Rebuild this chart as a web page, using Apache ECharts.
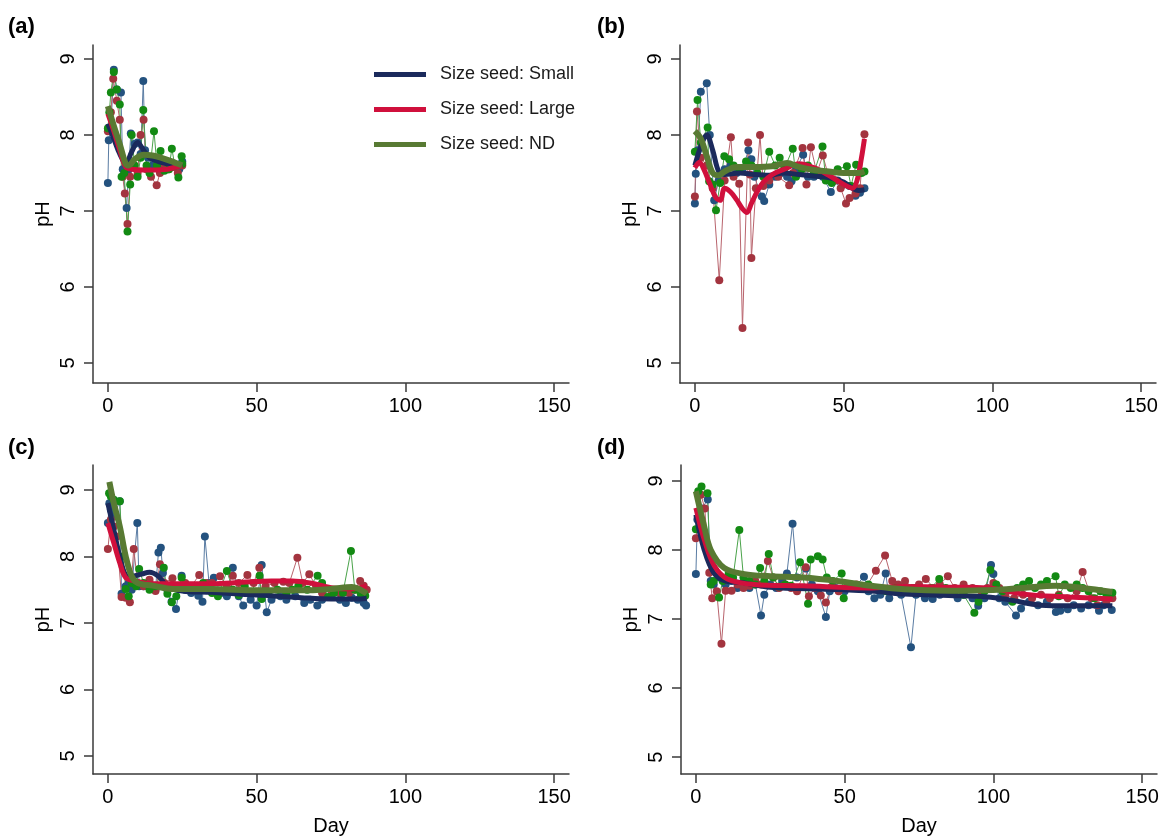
<!DOCTYPE html>
<html>
<head>
<meta charset="utf-8">
<script src="https://cdn.jsdelivr.net/npm/echarts@6/dist/echarts.min.js"></script>
<style>
html,body{margin:0;padding:0;background:#fff;}
#chart{width:1167px;height:837px;}
</style>
</head>
<body>
<div id="chart"></div>
<script>
// ---- tick labels ----
const dayTicks = [0, 50, 100, 150];
const phTicks = [5, 6, 7, 8, 9];
const seriesNames = ['Size seed: Small', 'Size seed: Large', 'Size seed: ND'];
const panelLabels = ['(a)', '(b)', '(c)', '(d)'];

// ---- panel (a): raw [day, pH] ----
const aSmall = [[0,7.37],[0.3,7.93],[1,8.1],[2,8.86],[3,8.6],[4.4,8.56],[5,7.55],[6.3,7.04],[7,7.55],[7.7,8.02],[9,7.88],[10,7.9],[11,7.75],[11.9,8.71],[12.5,7.8],[13.5,7.7],[15,7.6],[16,7.65],[17,7.62],[18,7.58],[19,7.6],[20,7.55],[21,7.62],[22,7.58],[23,7.6],[24,7.55],[25,7.65]];
const aLarge = [[0,8.05],[1,8.3],[1.8,8.74],[3,8.45],[4,8.2],[5,7.45],[5.7,7.23],[6.6,6.83],[7.5,7.45],[8.5,7.6],[10,7.5],[11,8.0],[12,8.2],[13,7.55],[14.5,7.45],[16.4,7.34],[17.5,7.5],[19,7.6],[20.5,7.55],[22,7.58],[23.5,7.5],[25,7.6]];
const aND = [[0,8.09],[0.5,8.3],[1,8.56],[2,8.83],[3,8.6],[4,8.4],[4.6,7.45],[5.5,7.5],[6.6,6.73],[7.5,7.35],[8,8.0],[9,7.6],[10,7.45],[11,7.7],[11.9,8.33],[13,7.6],[14,7.5],[15.5,8.05],[16.5,7.6],[17.7,7.79],[19,7.53],[20.5,7.55],[21.5,7.82],[22.5,7.6],[23.7,7.44],[24.8,7.72],[25,7.62]];
// ---- panel (a): smoothed ----
const aSmallFit = [[0,8.15],[2,7.95],[4,7.75],[6,7.62],[8,7.78],[10,7.9],[12,7.8],[14,7.7],[17,7.65],[20,7.62],[23,7.6],[25,7.6]];
const aLargeFit = [[0,8.28],[2,8.05],[4,7.8],[6,7.58],[8,7.55],[12,7.54],[16,7.54],[20,7.55],[22,7.57],[25,7.6]];
const aNDFit = [[0,8.38],[2,8.12],[4,7.88],[6,7.62],[7,7.6],[9,7.68],[12,7.74],[15,7.73],[18,7.7],[21,7.66],[25,7.6]];

// ---- panel (b): raw ----
const bSmall = [[0,7.1],[0.3,7.49],[1,7.8],[2,8.57],[4,8.68],[5,8.0],[6.5,7.14],[8,7.4],[10,7.55],[12,7.6],[14,7.5],[16,7.55],[18,7.8],[19,7.68],[20,7.45],[22.5,7.19],[23.3,7.13],[25,7.35],[27,7.45],[29,7.5],[31,7.45],[32.5,7.39],[34,7.55],[36.4,7.74],[38,7.45],[40,7.45],[41.3,7.51],[43,7.45],[45.7,7.25],[48,7.4],[50,7.35],[52,7.33],[54,7.2],[55.5,7.24],[57,7.3]];
const bLarge = [[0,7.19],[0.7,8.31],[2,7.7],[4,7.6],[6,7.3],[8.2,6.09],[10,7.4],[12.1,7.97],[13,7.45],[14.9,7.36],[16,5.46],[17.9,7.9],[18.5,7.48],[19,6.38],[20.5,7.3],[21.9,8.0],[23,7.33],[25,7.4],[28,7.45],[31.7,7.34],[33,7.5],[36.2,7.83],[37.5,7.35],[39,7.84],[41,7.5],[43,7.73],[45,7.45],[47,7.4],[49,7.3],[50.8,7.1],[52,7.17],[54,7.23],[55.5,7.3],[57,8.01]];
const bND = [[0,7.78],[0.9,8.46],[2,7.9],[4.3,8.1],[4.8,7.39],[6,7.35],[7.1,7.01],[8.5,7.37],[9.9,7.72],[11.5,7.68],[13,7.6],[15,7.55],[17.2,7.65],[19,7.6],[21,7.5],[23,7.45],[25,7.78],[27,7.6],[28.5,7.7],[30,7.55],[32.9,7.82],[34,7.45],[36,7.55],[38,7.6],[40,7.5],[42.9,7.85],[44,7.4],[46,7.37],[48,7.55],[51.1,7.59],[52.5,7.33],[54.2,7.61],[56,7.5],[57,7.52]];
// ---- panel (b): smoothed ----
const bSmallFit = [[0,7.6],[2,7.85],[4,8.0],[6,7.8],[8,7.52],[10,7.48],[15,7.5],[20,7.48],[25,7.47],[30,7.5],[35,7.48],[40,7.46],[45,7.44],[50,7.38],[53,7.3],[55,7.27],[57,7.28]];
const bLargeFit = [[0,7.57],[1.5,7.64],[3,7.55],[5,7.36],[7,7.18],[8.5,7.14],[10,7.3],[12,7.25],[14,7.15],[16,7.03],[17.5,6.98],[19,7.1],[21,7.26],[23,7.38],[26,7.48],[30,7.55],[35,7.62],[40,7.57],[45,7.47],[50,7.35],[53,7.3],[54.5,7.4],[56,7.7],[57,7.95]];
const bNDFit = [[0,8.05],[2,7.95],[4,7.72],[6,7.5],[8,7.47],[10,7.52],[14,7.58],[20,7.58],[26,7.59],[31,7.63],[35,7.58],[40,7.54],[45,7.52],[50,7.5],[55,7.5],[57,7.52]];

// ---- panel (c): raw ----
const cSmall = [[0,8.5],[0.5,8.8],[1,8.7],[2,8.6],[4,8.83],[4.6,7.44],[6,7.55],[7,7.6],[8,7.5],[9.9,8.5],[10.5,7.55],[12,7.55],[14,7.6],[16,7.5],[17,8.06],[17.8,8.13],[18.5,7.75],[20,7.5],[21.4,7.32],[22.9,7.21],[24.8,7.71],[26,7.5],[28,7.45],[30.4,7.41],[31.8,7.32],[32.6,8.3],[34,7.6],[35.6,7.68],[38,7.45],[40,7.4],[42,7.83],[44,7.4],[45.5,7.26],[48,7.35],[50,7.26],[51.7,7.87],[53.4,7.16],[55,7.35],[58,7.4],[60,7.35],[63,7.4],[66,7.3],[68,7.35],[70.4,7.26],[72,7.35],[75,7.4],[78,7.35],[80,7.3],[82,7.38],[84,7.35],[86,7.3],[86.8,7.26]];
const cLarge = [[0,8.11],[1,8.55],[2,8.45],[3,8.3],[4.6,7.39],[6,7.38],[7.4,7.31],[8.7,8.11],[10,7.6],[12,7.55],[14,7.65],[16,7.48],[17.5,7.88],[19,7.6],[21.7,7.67],[24,7.55],[26,7.6],[28,7.55],[30.7,7.72],[33,7.6],[35,7.6],[37.7,7.7],[40,7.55],[42,7.71],[44,7.6],[46.9,7.72],[49,7.6],[50.9,7.83],[53,7.55],[56,7.6],[59,7.62],[61,7.6],[63.7,7.98],[65.5,7.6],[67.7,7.73],[70,7.55],[72,7.45],[75,7.5],[78,7.45],[81,7.45],[83,7.5],[84.8,7.63],[86,7.56],[87,7.5]];
const cND = [[0.4,8.95],[1,8.9],[2,8.85],[4,8.83],[5,8.0],[6,7.51],[7,7.4],[8,7.6],[9.5,7.55],[10.5,7.81],[12,7.6],[14,7.5],[16,7.55],[18.8,7.83],[20,7.44],[21.5,7.31],[23,7.4],[24.8,7.68],[27,7.5],[30,7.55],[32,7.6],[35,7.45],[37,7.4],[40,7.78],[42,7.5],[44,7.42],[46,7.55],[48,7.45],[51,7.71],[51.7,7.36],[54,7.45],[57,7.5],[60,7.45],[62,7.5],[64,7.55],[67,7.5],[70.5,7.71],[72,7.6],[74,7.39],[76,7.45],[79,7.45],[81.7,8.08],[83,7.5],[85,7.44],[86.5,7.41]];
// ---- panel (c): smoothed ----
const cSmallFit = [[0,8.8],[2,8.4],[4,8.0],[6,7.72],[8,7.7],[11,7.73],[14,7.76],[17,7.7],[20,7.55],[25,7.48],[35,7.46],[45,7.43],[55,7.41],[65,7.38],[75,7.36],[85,7.36],[87,7.37]];
const cLargeFit = [[0,8.5],[2,8.2],[4,7.9],[6,7.68],[9,7.63],[15,7.59],[25,7.59],[35,7.59],[45,7.61],[55,7.63],[62,7.63],[68,7.6],[75,7.53],[82,7.51],[87,7.56]];
const cNDFit = [[0.5,9.12],[2,8.8],[4,8.45],[6,8.0],[8,7.7],[10,7.6],[15,7.56],[22,7.51],[35,7.51],[50,7.49],[65,7.49],[75,7.51],[82,7.54],[87,7.44]];

// ---- panel (d): raw ----
const dSmall = [[0,7.65],[0.5,8.44],[2,8.6],[4,8.73],[5,7.55],[6,7.5],[8,7.6],[10,7.5],[12,7.55],[14,7.45],[16,7.5],[18,7.45],[20,7.5],[21.9,7.05],[23,7.35],[25,7.5],[27,7.45],[29,7.55],[30.6,7.66],[32.5,8.38],[34,7.6],[37,7.73],[39,7.5],[41,7.4],[43.7,7.03],[45,7.4],[47,7.45],[50,7.4],[53,7.45],[56.5,7.61],[58,7.4],[60,7.3],[62,7.35],[63.8,7.66],[65,7.3],[67,7.4],[69,7.35],[72.3,6.59],[74,7.35],[77,7.3],[79.6,7.29],[82,7.35],[85,7.4],[88,7.3],[90,7.35],[93,7.3],[94.9,7.19],[97,7.3],[99.2,7.78],[100,7.65],[102,7.3],[104,7.25],[107.6,7.05],[109.3,7.15],[112,7.25],[115,7.2],[118,7.25],[121,7.1],[122.5,7.12],[125,7.14],[127,7.2],[129.5,7.15],[132,7.2],[135.5,7.12],[137,7.2],[139.8,7.13]];
const dLarge = [[0,8.17],[1,8.45],[1.7,8.8],[3,8.6],[4.5,7.67],[5.5,7.3],[7,7.4],[8.6,6.64],[10,7.41],[12,7.41],[14,7.5],[16,7.45],[18,7.48],[20,7.55],[22,7.5],[24.2,7.84],[26,7.6],[28,7.45],[30,7.5],[32,7.45],[34,7.4],[36.9,7.75],[38,7.33],[40,7.45],[42,7.34],[43.7,7.24],[45.5,7.46],[48,7.4],[51,7.45],[54,7.5],[57,7.45],[60.5,7.7],[63.6,7.92],[66,7.55],[68,7.5],[70.3,7.55],[73,7.45],[75,7.5],[77.3,7.58],[80,7.45],[82,7.5],[84.7,7.62],[87,7.45],[90,7.5],[93,7.45],[96,7.4],[98,7.45],[100,7.52],[102,7.45],[104,7.35],[107,7.3],[110,7.35],[113,7.3],[116,7.35],[119,7.3],[122,7.35],[125,7.3],[128,7.4],[130,7.68],[133,7.3],[135,7.2],[138,7.25],[140,7.3]];
const dND = [[0,8.3],[0.8,8.85],[1.9,8.92],[3.9,8.82],[5,7.5],[6,7.55],[7.8,7.31],[9,7.55],[11,7.65],[12.5,7.6],[14.6,8.29],[16,7.6],[18,7.55],[20,7.5],[21.6,7.74],[23,7.55],[24.5,7.94],[26,7.6],[28,7.47],[30,7.5],[32,7.48],[35,7.82],[37.7,7.22],[38.6,7.86],[41,7.91],[42.6,7.86],[44,7.6],[46,7.55],[49,7.66],[49.7,7.3],[52,7.5],[55,7.45],[58,7.5],[61,7.45],[64,7.4],[67,7.45],[70,7.4],[73,7.45],[76,7.4],[79,7.45],[81.8,7.58],[84,7.45],[87,7.4],[90,7.35],[93.6,7.09],[95,7.25],[97,7.4],[99,7.71],[101,7.5],[103,7.4],[106.4,7.25],[108,7.45],[110,7.5],[112,7.55],[114,7.45],[116,7.5],[118,7.55],[120.9,7.62],[122,7.33],[124,7.5],[126,7.45],[128,7.5],[130,7.45],[132,7.4],[134,7.3],[136,7.4],[138,7.35],[140,7.38]];
// ---- panel (d): smoothed ----
const dSmallFit = [[0,8.51],[2.8,8.0],[6,7.67],[10,7.55],[15,7.53],[25,7.46],[45,7.43],[60,7.4],[70,7.36],[85,7.34],[98,7.32],[105,7.28],[116,7.2],[125,7.19],[140,7.19]];
const dLargeFit = [[0,8.61],[2.8,8.15],[6.2,7.77],[10.6,7.58],[19.6,7.5],[36,7.48],[58,7.45],[70,7.47],[85,7.46],[98,7.45],[110,7.36],[125,7.32],[140,7.29]];
const dNDFit = [[0,8.85],[2.8,8.34],[5,8.0],[9.5,7.74],[16.3,7.65],[25,7.62],[36,7.6],[47.6,7.55],[59,7.48],[70,7.43],[85,7.41],[100,7.42],[110,7.45],[121,7.48],[130,7.45],[140,7.39]];

// ---- assemble ----
const rawSets = [[aSmall, aLarge, aND], [bSmall, bLarge, bND], [cSmall, cLarge, cND], [dSmall, dLarge, dND]];
const fitSets = [[aSmallFit, aLargeFit, aNDFit], [bSmallFit, bLargeFit, bNDFit], [cSmallFit, cLargeFit, cNDFit], [dSmallFit, dLargeFit, dNDFit]];

const rawColors = ['#24527f', '#a3343f', '#138a13'];
const rawLineColors = ['#5a7ca3', '#b9646d', '#4aa34a'];
const fitColors = ['#1b2a5c', '#d0103c', '#587a33'];
const fitWidths = [5, 5, 6];

const FONT = '"Liberation Sans", Arial, sans-serif';

const grids = [
  {left: 93, top: 45, width: 476, height: 338},
  {left: 680, top: 45, width: 476, height: 338},
  {left: 93, top: 465, width: 476, height: 311},
  {left: 681, top: 465, width: 476, height: 311}
];
const yRanges = [[4.737, 9.184], [4.737, 9.184], [4.73, 9.373], [4.755, 9.23]];

const axisColor = '#3a3a3a';
const xAxes = grids.map((g, i) => ({
  type: 'value', gridIndex: i, min: -5, max: 155,
  name: i >= 2 ? 'Day' : '', nameLocation: 'middle', nameGap: 42,
  nameTextStyle: {fontFamily: FONT, fontSize: 20, color: '#000'},
  axisLine: {show: true, onZero: false, lineStyle: {color: axisColor, width: 1.5}},
  axisTick: {show: true, length: 9, customValues: dayTicks, lineStyle: {color: axisColor, width: 1.5}},
  axisLabel: {customValues: dayTicks, fontFamily: FONT, fontSize: 20, color: '#000', margin: 13},
  splitLine: {show: false}
}));
const yAxes = grids.map((g, i) => ({
  type: 'value', gridIndex: i, min: yRanges[i][0], max: yRanges[i][1],
  name: 'pH', nameLocation: 'middle', nameGap: 40, nameRotate: 90,
  nameTextStyle: {fontFamily: FONT, fontSize: 20, color: '#000'},
  axisLine: {show: true, onZero: false, lineStyle: {color: axisColor, width: 1.5}},
  axisTick: {show: true, length: 9, customValues: phTicks, lineStyle: {color: axisColor, width: 1.5}},
  axisLabel: {customValues: phTicks, rotate: 90, fontFamily: FONT, fontSize: 20, color: '#000', margin: 15},
  splitLine: {show: false}
}));

const series = [];
rawSets.forEach((set, p) => {
  set.forEach((data, k) => {
    series.push({
      type: 'line', name: 'raw-' + p + '-' + k, xAxisIndex: p, yAxisIndex: p,
      data: data, symbol: 'circle', symbolSize: 8, showSymbol: true,
      itemStyle: {color: rawColors[k]},
      lineStyle: {color: rawLineColors[k], width: 1},
      z: 2, silent: true
    });
  });
});
fitSets.forEach((set, p) => {
  set.forEach((data, k) => {
    series.push({
      type: 'line', name: seriesNames[k], xAxisIndex: p, yAxisIndex: p,
      data: data, smooth: 0.35, symbol: 'none', showSymbol: false,
      color: fitColors[k],
      lineStyle: {color: fitColors[k], width: fitWidths[k]},
      z: 3 + k, silent: true
    });
  });
});

const labelPos = [[8, 16], [597, 16], [8, 437], [597, 437]];
const graphics = panelLabels.map((t, i) => ({
  type: 'text', left: labelPos[i][0], top: labelPos[i][1],
  style: {text: t, font: 'bold 22px ' + FONT, fill: '#000'}
}));

const chart = echarts.init(document.getElementById('chart'), null, {renderer: 'canvas'});
chart.setOption({
  animation: false,
  backgroundColor: '#fff',
  grid: grids,
  xAxis: xAxes,
  yAxis: yAxes,
  legend: {
    data: seriesNames, orient: 'vertical', left: 374, top: 64, padding: 0,
    icon: 'rect', itemWidth: 52, itemHeight: 5, itemGap: 14,
    textStyle: {fontFamily: FONT, fontSize: 18, color: '#1a1a1a', lineHeight: 21, padding: [0, 0, 0, 9]},
    selectedMode: false
  },
  graphic: graphics,
  series: series
});
</script>
</body>
</html>
